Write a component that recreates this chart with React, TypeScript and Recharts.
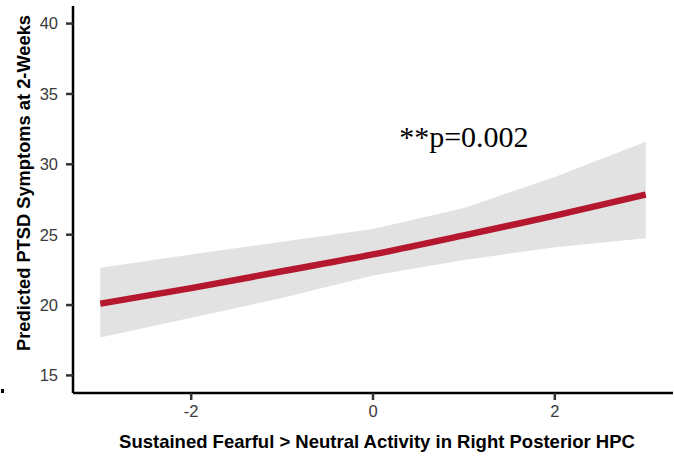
import React from "react";
import {
  ComposedChart,
  Area,
  Line,
  XAxis,
  YAxis,
  ReferenceDot,
} from "recharts";

const xValues = [-3, -2, -1, 0, 1, 2, 3];
const fitValues = [20.1, 21.2, 22.4, 23.6, 24.95, 26.35, 27.85];
const lowerValues = [17.7, 19.1, 20.5, 22.1, 23.2, 24.1, 24.75];
const upperValues = [22.65, 23.6, 24.5, 25.4, 26.9, 29.1, 31.6];
const xTicks = [-2, 0, 2];
const yTicks = [15, 20, 25, 30, 35, 40];
const annotation = { x: 1, y: 32, text: "**p=0.002" };
const xTitle = "Sustained Fearful > Neutral Activity in Right Posterior HPC";
const yTitle = "Predicted PTSD Symptoms at 2-Weeks";

const data = xValues.map((x, i) => ({
  x,
  fit: fitValues[i],
  band: [lowerValues[i], upperValues[i]],
}));

const sans = "'Liberation Sans', Arial, sans-serif";
const serif = "'Liberation Serif', 'Times New Roman', serif";

export default function App() {
  return (
    <div style={{ position: "absolute", left: 0, top: 0, width: 674, height: 456, background: "#fff" }}>
      <div style={{ position: "absolute", left: 1, top: 389, width: 3, height: 4, background: "#000" }} />
      <ComposedChart
        width={674}
        height={456}
        data={data}
        margin={{ top: 6, right: 1, left: 0, bottom: 0 }}
      >
        <XAxis
          dataKey="x"
          type="number"
          domain={[-3.3, 3.3]}
          ticks={xTicks}
          allowDataOverflow
          height={63}
          axisLine={{ stroke: "#000", strokeWidth: 2.5 }}
          tickLine={{ stroke: "#333", strokeWidth: 2.5 }}
          tickSize={7}
          tickMargin={5}
          tick={{ fill: "#3a3a3a", fontSize: 16.5, fontFamily: sans }}
          label={{
            value: xTitle,
            position: "insideBottom",
            offset: 8,
            fill: "#000",
            fontSize: 18.5,
            fontWeight: "bold",
            fontFamily: sans,
            dx: 4,
          }}
        />
        <YAxis
          type="number"
          domain={[13.75, 41.25]}
          ticks={yTicks}
          allowDataOverflow
          width={73}
          axisLine={{ stroke: "#000", strokeWidth: 2.5 }}
          tickLine={{ stroke: "#333", strokeWidth: 2.5 }}
          tickSize={7}
          tickMargin={8}
          tick={{ fill: "#3a3a3a", fontSize: 16.5, fontFamily: sans }}
          label={{
            content: () => (
              <text
                x={23}
                y={183}
                transform="rotate(-90, 23, 183)"
                textAnchor="middle"
                dominantBaseline="central"
                fill="#000"
                fontSize={18.3}
                fontWeight="bold"
                fontFamily={sans}
              >
                {yTitle}
              </text>
            ),
          }}
        />
        <Area
          type="linear"
          dataKey="band"
          stroke="none"
          fill="#e2e2e2"
          fillOpacity={1}
          isAnimationActive={false}
          dot={false}
          activeDot={false}
        />
        <Line
          type="monotone"
          dataKey="fit"
          stroke="#b5172f"
          strokeWidth={6.5}
          dot={false}
          activeDot={false}
          isAnimationActive={false}
        />
        <ReferenceDot
          x={annotation.x}
          y={annotation.y}
          r={0}
          stroke="none"
          fill="none"
          label={{
            content: (props: any) => {
              const vb = props.viewBox || {};
              const cx = (vb.x ?? 0) + (vb.width ?? 0) / 2;
              const cy = (vb.y ?? 0) + (vb.height ?? 0) / 2;
              return (
                <text
                  x={cx}
                  y={cy}
                  textAnchor="middle"
                  dominantBaseline="central"
                  fill="#000"
                  fontSize={30}
                  fontFamily={serif}
                >
                  {annotation.text}
                </text>
              );
            },
          }}
        />
      </ComposedChart>
    </div>
  );
}
